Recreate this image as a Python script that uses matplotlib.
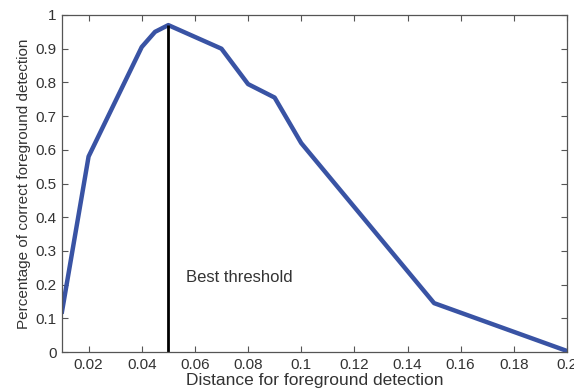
import matplotlib
matplotlib.use("Agg")
from matplotlib import pyplot as plt

# ---- data ----
dist = [0.01, 0.02, 0.04, 0.045, 0.05, 0.07, 0.08, 0.09, 0.10, 0.15, 0.20]
pct = [0.12, 0.58, 0.905, 0.95, 0.97, 0.90, 0.795, 0.755, 0.62, 0.145, 0.003]
best_x = 0.05
best_y = 0.97
xticks = [0.02, 0.04, 0.06, 0.08, 0.1, 0.12, 0.14, 0.16, 0.18, 0.2]
xtick_labels = ["0.02", "0.04", "0.06", "0.08", "0.1", "0.12", "0.14", "0.16", "0.18", "0.2"]
yticks = [0, 0.1, 0.2, 0.3, 0.4, 0.5, 0.6, 0.7, 0.8, 0.9, 1]
ytick_labels = ["0", "0.1", "0.2", "0.3", "0.4", "0.5", "0.6", "0.7", "0.8", "0.9", "1"]

plt.rcParams["font.family"] = ["Liberation Sans", "DejaVu Sans"]
txt = "#333333"

fig = plt.figure(figsize=(5.74, 3.89), dpi=100)
ax = fig.add_axes([62 / 574, 1 - 352 / 389, (567 - 62) / 574, (352 - 15) / 389])

ax.plot(dist, pct, color="#3953a4", lw=3.2, solid_joinstyle="round")
ax.vlines(best_x, 0, best_y, color="black", lw=2)
ax.text(0.0565, 0.22, "Best threshold", fontsize=12, color=txt, va="center")

ax.set_xlim(0.01, 0.2)
ax.set_ylim(0, 1)
ax.set_xticks(xticks, xtick_labels)
ax.set_yticks(yticks, ytick_labels)
ax.tick_params(direction="in", length=4, width=0.8, colors="#555555",
               labelcolor=txt, labelsize=11, top=True, right=True, pad=4)
for s in ax.spines.values():
    s.set_color("#555555")
    s.set_linewidth(0.9)

ax.set_xlabel("Distance for foreground detection", fontsize=12.5, color=txt, labelpad=1)
ax.set_ylabel("Percentage of correct foreground detection", fontsize=11, color=txt, labelpad=3)

fig.savefig("out.png", dpi=100)
